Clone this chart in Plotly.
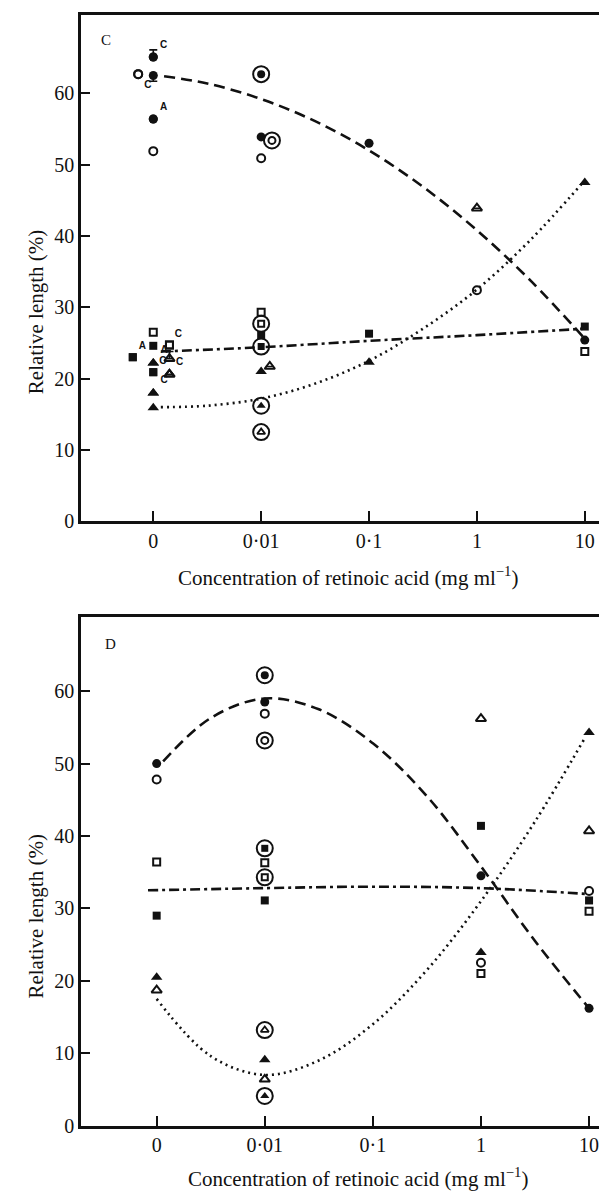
import plotly.graph_objects as go

# ---------------- data ----------------
X_TICK_POS = [0, 1, 2, 3, 4]
X_TICK_TEXT = ["0", "0·01", "0·1", "1", "10"]
Y_TICK_VALS = [0, 10, 20, 30, 40, 50, 60]

# Panel C  (x: 0=0, 1=0.01, 2=0.1, 3=1, 4=10 mg/ml)
C_fcirc_x = [0, 0, 0, 1, 2, 4]
C_fcirc_y = [65.1, 62.5, 56.4, 53.9, 53.0, 25.4]
C_fcirc_lab = ["C", "", "A", "", "", ""]
C_fcirc_eu = [1.0, 0, 0, 0, 0, 0]
C_fcirc_ed = [0, 0.8, 0, 0, 0, 0]
C_ocirc_x = [-0.14, 0, 1, 3]
C_ocirc_y = [62.7, 51.9, 50.9, 32.4]
C_ocirc_lab = ["C", "", "", ""]
C_fsq_x = [-0.19, 0, 0, 1, 2, 4]
C_fsq_y = [23.0, 24.6, 20.9, 26.1, 26.3, 27.3]
C_fsq_lab = ["A", "", "C", "", "", ""]
C_osq_x = [0, 0.15, 1, 4]
C_osq_y = [26.5, 24.7, 29.3, 23.8]
C_osq_lab = ["", "C", "", ""]
C_ftri_x = [0, 0, 0, 1, 2, 4]
C_ftri_y = [22.2, 18.0, 15.9, 21.0, 22.3, 47.5]
C_ftri_lab = ["A", "C", "", "", "", ""]
C_otri_x = [0.15, 0.15, 1.08, 3]
C_otri_y = [22.8, 20.6, 21.7, 43.9]
C_otri_lab = ["", "C", "", ""]
C_otri_eu = [1.0, 0, 0, 0]
# ringed points (panel C)
C_ring_fcirc = ([1], [62.7])
C_ring_ocirc = ([1.1], [53.4])
C_ring_fsq = ([1], [24.5])
C_ring_osq = ([1], [27.7])
C_ring_ftri = ([1], [16.2])
C_ring_otri = ([1], [12.5])
# fitted curves (panel C)
C_dash_x = [0.1, 0.5, 1.0, 1.5, 2.0, 2.5, 3.0, 3.5, 4.0]
C_dash_y = [62.4, 61.4, 59.2, 56.1, 52.0, 46.9, 40.8, 33.7, 25.6]
C_dot_x = [0.07, 0.5, 1.0, 1.5, 2.0, 2.5, 3.0, 3.5, 3.97]
C_dot_y = [16.0, 16.2, 17.2, 19.3, 22.5, 27.0, 32.5, 39.5, 47.3]
C_dd_x = [0.07, 1.0, 2.0, 3.0, 3.99]
C_dd_y = [23.8, 24.4, 25.3, 26.1, 27.0]

# Panel D
D_fcirc_x = [0, 1, 3, 4]
D_fcirc_y = [50.0, 58.5, 34.5, 16.2]
D_ocirc_x = [0, 1, 3, 4]
D_ocirc_y = [47.8, 56.9, 22.5, 32.4]
D_fsq_x = [0, 1, 3, 4]
D_fsq_y = [29.0, 31.1, 41.4, 31.1]
D_osq_x = [0, 1, 3, 4]
D_osq_y = [36.4, 36.3, 21.0, 29.6]
D_ftri_x = [0, 1, 3, 4]
D_ftri_y = [20.5, 9.1, 23.9, 54.3]
D_otri_x = [0, 1, 3, 4]
D_otri_y = [18.7, 6.4, 56.2, 40.7]
D_ring_fcirc = ([1], [62.2])
D_ring_ocirc = ([1], [53.2])
D_ring_fsq = ([1], [38.3])
D_ring_osq = ([1], [34.3])
D_ring_ftri = ([1], [4.1])
D_ring_otri = ([1], [13.2])
D_dash_x = [0.06, 0.5, 1.0, 1.5, 2.0, 2.5, 3.0, 3.5, 4.0]
D_dash_y = [50.3, 56.3, 59.0, 57.5, 52.8, 45.5, 35.8, 25.5, 16.2]
D_dot_x = [0.0, 0.5, 1.0, 1.5, 2.0, 2.5, 3.0, 3.5, 3.96]
D_dot_y = [17.5, 9.6, 7.0, 9.0, 14.0, 21.5, 31.0, 42.0, 53.5]
D_dd_x = [-0.08, 1.0, 2.0, 3.0, 3.97]
D_dd_y = [32.5, 32.8, 33.0, 32.8, 32.0]

X_TITLE = "Concentration of retinoic acid (mg ml<sup>−1</sup>)"
Y_TITLE = "Relative length (%)"

# ---------------- figure ----------------
FONT = "Liberation Serif"
BLACK = "#111111"
W, H = 607, 1195

fig = go.Figure()

STY = {
    "fcirc": dict(symbol="circle", size=9, color=BLACK, line=dict(width=0)),
    "ocirc": dict(symbol="circle-open", size=8, color=BLACK, line=dict(width=2, color=BLACK)),
    "fsq": dict(symbol="square", size=8, color=BLACK, line=dict(width=0)),
    "osq": dict(symbol="square-open", size=7, color=BLACK, line=dict(width=2, color=BLACK)),
    "ftri": dict(symbol="triangle-up", size=10, color=BLACK, line=dict(width=0)),
    "otri": dict(symbol="triangle-up-open", size=9, color=BLACK, line=dict(width=2, color=BLACK)),
}
INNER = {
    "fcirc": dict(symbol="circle", size=8, color=BLACK, line=dict(width=0)),
    "ocirc": dict(symbol="circle-open", size=7, color=BLACK, line=dict(width=2, color=BLACK)),
    "fsq": dict(symbol="square", size=7, color=BLACK, line=dict(width=0)),
    "osq": dict(symbol="square-open", size=6, color=BLACK, line=dict(width=2, color=BLACK)),
    "ftri": dict(symbol="triangle-up", size=8, color=BLACK, line=dict(width=0)),
    "otri": dict(symbol="triangle-up-open", size=7, color=BLACK, line=dict(width=1.8, color=BLACK)),
}


def add_curve(x, y, dash, ax):
    fig.add_trace(go.Scatter(x=x, y=y, mode="lines", xaxis="x" + ax, yaxis="y" + ax,
                             line=dict(color=BLACK, width=2.6, dash=dash, shape="spline", smoothing=1.0),
                             hoverinfo="skip", showlegend=False))


def add_pts(x, y, kind, ax, labels=None, eu=None, ed=None, tpos=None):
    kw = {}
    if eu is not None or ed is not None:
        kw["error_y"] = dict(type="data", symmetric=False,
                             array=eu if eu is not None else [0] * len(x),
                             arrayminus=ed if ed is not None else [0] * len(x),
                             color=BLACK, thickness=1.6, width=4)
    fig.add_trace(go.Scatter(x=x, y=y, mode="markers", xaxis="x" + ax, yaxis="y" + ax,
                             marker=STY[kind], showlegend=False, cliponaxis=False, **kw))
    if labels is not None:
        idx = [i for i, t in enumerate(labels) if t]
        pos = [(tpos[i] if tpos else "top right") for i in idx]
        fig.add_trace(go.Scatter(x=[x[i] for i in idx], y=[y[i] for i in idx],
                                 text=["<b>" + labels[i] + "</b>" for i in idx],
                                 mode="markers+text", textposition=pos,
                                 xaxis="x" + ax, yaxis="y" + ax, marker=STY[kind],
                                 textfont=dict(family="Liberation Sans", size=10, color=BLACK),
                                 showlegend=False, cliponaxis=False, hoverinfo="skip"))


def add_ring(pts, kind, ax):
    x, y = pts
    fig.add_trace(go.Scatter(x=x, y=y, mode="markers", xaxis="x" + ax, yaxis="y" + ax,
                             marker=dict(symbol="circle-open", size=16, color=BLACK,
                                         line=dict(width=2, color=BLACK)),
                             showlegend=False))
    fig.add_trace(go.Scatter(x=x, y=y, mode="markers", xaxis="x" + ax, yaxis="y" + ax,
                             marker=INNER[kind], showlegend=False))


# Panel C (axes x / y)
add_curve(C_dash_x, C_dash_y, "11px,6px", "")
add_curve(C_dot_x, C_dot_y, "2px,4px", "")
add_curve(C_dd_x, C_dd_y, "10px,4px,3px,4px", "")
add_pts(C_fcirc_x, C_fcirc_y, "fcirc", "", C_fcirc_lab, C_fcirc_eu, C_fcirc_ed)
add_pts(C_ocirc_x, C_ocirc_y, "ocirc", "", C_ocirc_lab,
        tpos=["bottom right", "top right", "top right", "top right"])
add_pts(C_fsq_x, C_fsq_y, "fsq", "", C_fsq_lab)
add_pts(C_osq_x, C_osq_y, "osq", "", C_osq_lab)
add_pts(C_ftri_x, C_ftri_y, "ftri", "", C_ftri_lab)
add_pts(C_otri_x, C_otri_y, "otri", "", C_otri_lab, C_otri_eu)
for pts, k in [(C_ring_fcirc, "fcirc"), (C_ring_ocirc, "ocirc"), (C_ring_fsq, "fsq"),
               (C_ring_osq, "osq"), (C_ring_ftri, "ftri"), (C_ring_otri, "otri")]:
    add_ring(pts, k, "")

# Panel D (axes x2 / y2)
add_curve(D_dash_x, D_dash_y, "11px,6px", "2")
add_curve(D_dot_x, D_dot_y, "2px,4px", "2")
add_curve(D_dd_x, D_dd_y, "10px,4px,3px,4px", "2")
add_pts(D_fcirc_x, D_fcirc_y, "fcirc", "2")
add_pts(D_ocirc_x, D_ocirc_y, "ocirc", "2")
add_pts(D_fsq_x, D_fsq_y, "fsq", "2")
add_pts(D_osq_x, D_osq_y, "osq", "2")
add_pts(D_ftri_x, D_ftri_y, "ftri", "2")
add_pts(D_otri_x, D_otri_y, "otri", "2")
for pts, k in [(D_ring_fcirc, "fcirc"), (D_ring_ocirc, "ocirc"), (D_ring_fsq, "fsq"),
               (D_ring_osq, "osq"), (D_ring_ftri, "ftri"), (D_ring_otri, "otri")]:
    add_ring(pts, k, "2")

xdom = [73 / W, 1.0]
top_dom = [(H - 518) / H, (H - 7) / H]
bot_dom = [(H - 1128) / H, (H - 615) / H]

title_font = dict(family=FONT, size=21, color=BLACK)

xax = dict(tickvals=X_TICK_POS, ticktext=X_TICK_TEXT, ticks="inside", ticklen=10, tickwidth=2.2,
           tickcolor=BLACK, showline=True, linecolor=BLACK, linewidth=2.6, mirror=True,
           showgrid=False, zeroline=False, tickfont=dict(family=FONT, size=20, color=BLACK),
           domain=xdom, fixedrange=True)
yax = dict(tickvals=Y_TICK_VALS, ticks="inside", ticklen=9, tickwidth=2.2, tickcolor=BLACK,
           showline=True, linecolor=BLACK, linewidth=2.6, showgrid=False, zeroline=False,
           tickfont=dict(family=FONT, size=20, color=BLACK), fixedrange=True)

fig.update_layout(
    width=W, height=H, margin=dict(l=0, r=0, t=0, b=0),
    paper_bgcolor="white", plot_bgcolor="white", showlegend=False,
    xaxis=dict(xax, range=[-0.67, 4.28], anchor="y"),
    yaxis=dict(yax, range=[0, 71.0], domain=top_dom, anchor="x"),
    xaxis2=dict(xax, range=[-0.70, 4.24], anchor="y2"),
    yaxis2=dict(yax, range=[0, 70.2], domain=bot_dom, anchor="x2"),
)

ann = []
for yc in [(H - 307) / H, (H - 917) / H]:
    ann.append(dict(text=Y_TITLE, xref="paper", yref="paper", x=28 / W, y=yc,
                    textangle=-90, showarrow=False, font=title_font,
                    xanchor="center", yanchor="middle"))
for xc, yc in [(340 / W, (H - 574) / H), (350 / W, (H - 1180) / H)]:
    ann.append(dict(text=X_TITLE, xref="paper", yref="paper", x=xc, y=yc, showarrow=False,
                    font=title_font, xanchor="center", yanchor="middle"))
ann.append(dict(text="C", xref="x", yref="y", x=-0.44, y=67.5, showarrow=False,
                font=dict(family=FONT, size=15, color=BLACK)))
ann.append(dict(text="D", xref="x2", yref="y2", x=-0.43, y=66.5, showarrow=False,
                font=dict(family=FONT, size=15, color=BLACK)))
fig.update_layout(annotations=ann)

fig.write_html("out.html")
